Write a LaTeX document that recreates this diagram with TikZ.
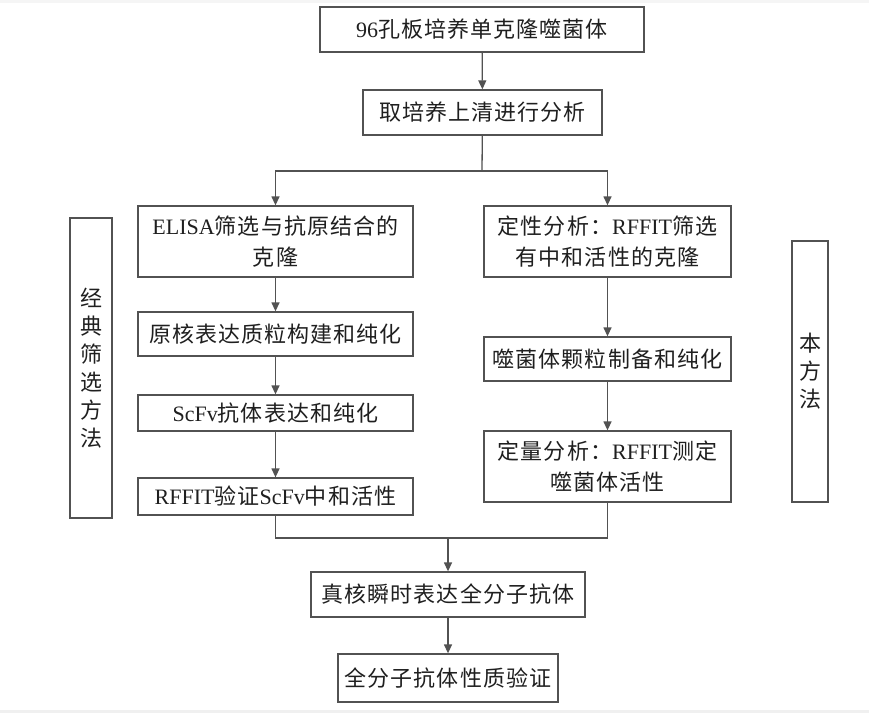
\documentclass[tikz,border=0pt]{standalone}
\usepackage{fontspec}
\setmainfont{Noto Sans CJK SC}[LetterSpace=5]
\newfontfamily\latfont{Liberation Serif}
\newcommand{\en}[1]{{\latfont #1}}
\usetikzlibrary{
  arrows.meta,
  calc,
  positioning,
}
\colorlet{linecolor}{black!68}
\colorlet{textcolor}{black!88}
\tikzset{
  >={Triangle[width=8pt,length=9pt]},
}

\begin{document}
\begin{tikzpicture}[x=1pt, y=-1pt,
    box/.style={draw=linecolor, line width=1.3pt, inner sep=0pt, align=center,
                text=textcolor, font=\fontsize{22}{31}\selectfont},
    sidebox/.style={box, font=\fontsize{22}{28}\selectfont},
    flow/.style={draw=linecolor, line width=1.3pt}]
  \useasboundingbox (0,0) rectangle (869,713);
  \fill [black!4] (0,0) rectangle (869,2.5);
  \fill [black!6] (0,710) rectangle (869,713);
  % upper part
  \node [box, minimum width=324, minimum height=45] (plate) at (482,29.5)
        {\en{96}孔板培养单克隆噬菌体};
  \node [box, minimum width=239, minimum height=45] (supern) at (482.5,112.5)
        {取培养上清进行分析};
  \coordinate (split) at (482,171);
  % classic screening
  \node [box, minimum width=275, minimum height=71] (elisa) at (275.5,241.5)
        {\en{ELISA}筛选与抗原结合的\\克隆};
  \node [box, minimum width=275, minimum height=44] (plasmid) at (275.5,334)
        {原核表达质粒构建和纯化};
  \node [box, minimum width=275, minimum height=36] (scfv) at (275.5,413)
        {\en{ScFv}抗体表达和纯化};
  \node [box, minimum width=275, minimum height=37] (verify) at (275.5,496.5)
        {\en{RFFIT}验证\en{ScFv}中和活性};
  \node [sidebox, minimum width=42, minimum height=300] (classic) at (91,368)
        {经\\典\\筛\\选\\方\\法};
  % this method
  \node [box, minimum width=247, minimum height=71] (qual) at (607.5,241.5)
        {定性分析：\en{RFFIT}筛选\\有中和活性的克隆};
  \node [box, minimum width=247, minimum height=44] (phage) at (607.5,359)
        {噬菌体颗粒制备和纯化};
  \node [box, minimum width=247, minimum height=71] (quant) at (607.5,466.5)
        {定量分析：\en{RFFIT}测定\\噬菌体活性};
  \node [sidebox, minimum width=36, minimum height=261] (ours) at (810,371.5)
        {本\\方\\法};
  % lower part
  \coordinate (join) at (448,538);
  \node [box, minimum width=274, minimum height=45] (euk) at (448,594.5)
        {真核瞬时表达全分子抗体};
  \node [box, minimum width=220, minimum height=48] (whole) at (448,678)
        {全分子抗体性质验证};
  % connectors
  \draw [flow, ->] (plate) -- (supern);
  \draw [flow] (supern) -- (split);
  \draw [flow, ->] (split) -| (elisa);
  \draw [flow, ->] (split) -| (qual);
  \draw [flow, ->] (elisa) -- (plasmid);
  \draw [flow, ->] (plasmid) -- (scfv);
  \draw [flow, ->] (scfv) -- (verify);
  \draw [flow, ->] (qual) -- (phage);
  \draw [flow, ->] (phage) -- (quant);
  \draw [flow] (verify) |- (join) -| (quant);
  \draw [flow, ->] (join) -- (euk);
  \draw [flow, ->] (euk) -- (whole);
\end{tikzpicture}
\end{document}
